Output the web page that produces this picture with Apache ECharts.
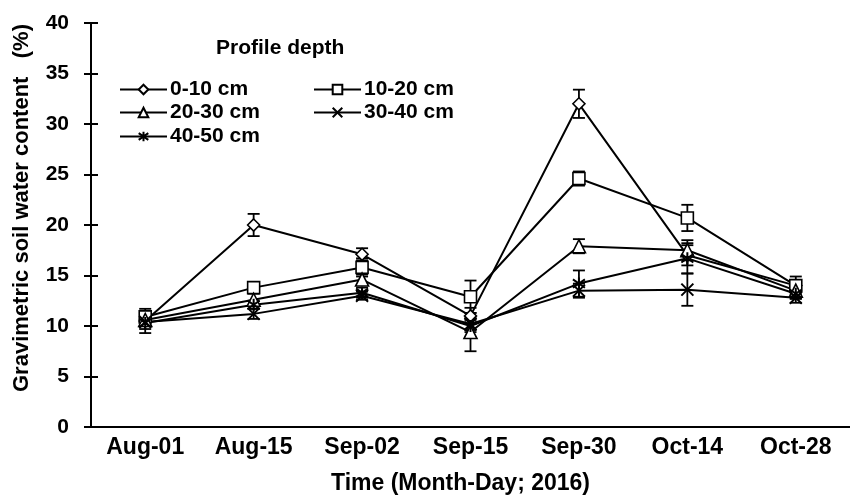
<!DOCTYPE html>
<html>
<head>
<meta charset="utf-8">
<script src="https://cdn.jsdelivr.net/npm/echarts@6/dist/echarts.min.js"></script>
<style>html,body{margin:0;padding:0;background:#fff}#c{width:850px;height:500px}</style>
</head>
<body>
<div id="c"></div>
<script>
var categories = ['Aug-01','Aug-15','Sep-02','Sep-15','Sep-30','Oct-14','Oct-28'];
var seriesNames = ['0-10 cm','10-20 cm','20-30 cm','30-40 cm','40-50 cm'];
var d0_10  = [10.5, 20.0, 17.1, 11.0, 32.0, 17.0, 14.0];
var e0_10  = [1.2, 1.1, 0.6, 0.8, 1.4, 1.0, 0.9];
var d10_20 = [10.9, 13.8, 15.8, 12.9, 24.6, 20.7, 14.0];
var e10_20 = [0.5, 0.4, 0.9, 1.6, 0.7, 1.3, 0.5];
var d20_30 = [10.6, 12.6, 14.6, 9.4, 17.9, 17.5, 13.5];
var e20_30 = [0.5, 0.6, 0.5, 1.9, 0.7, 1.0, 0.8];
var d30_40 = [10.4, 11.2, 13.0, 10.2, 13.5, 13.6, 12.8];
var e30_40 = [0.4, 0.5, 0.4, 0.6, 0.7, 1.6, 0.5];
var d40_50 = [10.3, 12.1, 13.3, 10.0, 14.2, 16.7, 13.2];
var e40_50 = [0.6, 0.4, 0.5, 0.6, 1.3, 1.5, 0.5];
var yTicks = [0,5,10,15,20,25,30,35,40];

var values = [d0_10, d10_20, d20_30, d30_40, d40_50];
var errors = [e0_10, e10_20, e20_30, e30_40, e40_50];
var symbols = ['diamond','rect','triangle','path://M0,0L10,10M10,0L0,10','path://M5,0L5,10M0,1.5L10,8.5M0,8.5L10,1.5'];
var symSizes = [12, 12, 13, 12, 12];
var FONT = 'Liberation Sans, Arial, sans-serif';

var series = [];
values.forEach(function(v, i){
  var hollow = i < 3;
  series.push({
    name: seriesNames[i], type: 'line', data: v,
    symbol: symbols[i], symbolSize: symSizes[i], symbolKeepAspect: true,
    lineStyle: {color: '#000', width: 2},
    itemStyle: {color: hollow ? '#fff' : '#000', borderColor: '#000', borderWidth: hollow ? 1.6 : 2},
    z: 3
  });
});
values.forEach(function(v, i){
  var rows = v.map(function(val, k){ return [k, val - errors[i][k], val + errors[i][k]]; });
  series.push({
    type: 'custom', data: rows, z: 2, silent: true,
    renderItem: function(params, api){
      var x = api.value(0);
      var lo = api.coord([x, api.value(1)]);
      var hi = api.coord([x, api.value(2)]);
      var w = 6;
      var st = {stroke: '#000', lineWidth: 1.8};
      return {type: 'group', children: [
        {type: 'line', shape: {x1: lo[0], y1: lo[1], x2: hi[0], y2: hi[1]}, style: st},
        {type: 'line', shape: {x1: lo[0]-w, y1: lo[1], x2: lo[0]+w, y2: lo[1]}, style: st},
        {type: 'line', shape: {x1: hi[0]-w, y1: hi[1], x2: hi[0]+w, y2: hi[1]}, style: st}
      ]};
    }
  });
});

var legendPos = [[119, 79], [313, 79], [119, 102], [313, 102], [119, 126]];
var legends = seriesNames.map(function(n, i){
  return {
    data: [n], left: legendPos[i][0], top: legendPos[i][1], padding: 0,
    itemWidth: 47, itemHeight: 12, itemGap: 0, selectedMode: false,
    textStyle: {fontFamily: FONT, fontWeight: 'bold', fontSize: 21, color: '#000', padding: [0,0,0,-2]}
  };
});

var option = {
  animation: false,
  backgroundColor: '#fff',
  grid: {left: 91, right: -5, top: 23, bottom: 69, containLabel: false},
  legend: legends,
  graphic: [
    {type: 'text', left: 216, top: 38, style: {text: 'Profile depth', font: 'bold 21px ' + FONT, fill: '#000'}},
    {type: 'text', x: 22, y: 208, rotation: Math.PI/2,
     style: {text: 'Gravimetric soil water content   (%)', font: 'bold 22px ' + FONT, fill: '#000', align: 'center', verticalAlign: 'middle'}}
  ],
  xAxis: [
    {type: 'category', data: categories, boundaryGap: true,
     axisLine: {lineStyle: {color: '#000', width: 2}},
     axisTick: {alignWithLabel: true, length: 5, lineStyle: {color: '#000', width: 2}},
     axisLabel: {margin: 9, color: '#000', fontFamily: FONT, fontWeight: 'bold', fontSize: 23},
     name: 'Time (Month-Day; 2016)', nameLocation: 'middle', nameGap: 45,
     nameTextStyle: {color: '#000', fontFamily: FONT, fontWeight: 'bold', fontSize: 23, padding: [0, 20, 0, 0]},
     splitLine: {show: false}},
    {type: 'category', data: categories, boundaryGap: true, position: 'bottom',
     axisLine: {show: false},
     axisTick: {alignWithLabel: true, inside: true, length: 5, lineStyle: {color: '#000', width: 2}},
     axisLabel: {show: false}, splitLine: {show: false}}
  ],
  yAxis: [
    {type: 'value', min: yTicks[0], max: yTicks[yTicks.length-1], interval: 5,
     axisLine: {show: true, lineStyle: {color: '#000', width: 2}},
     axisTick: {show: true, length: 7, lineStyle: {color: '#000', width: 2}},
     axisLabel: {margin: 22, color: '#000', fontFamily: FONT, fontWeight: 'bold', fontSize: 21},
     splitLine: {show: false}},
    {type: 'value', min: yTicks[0], max: yTicks[yTicks.length-1], interval: 5, position: 'left',
     axisLine: {show: false},
     axisTick: {show: true, inside: true, length: 7, lineStyle: {color: '#000', width: 2}},
     axisLabel: {show: false}, splitLine: {show: false}}
  ],
  series: series
};
var chart = echarts.init(document.getElementById('c'), null, {renderer: 'canvas'});
chart.setOption(option);
</script>
</body>
</html>
